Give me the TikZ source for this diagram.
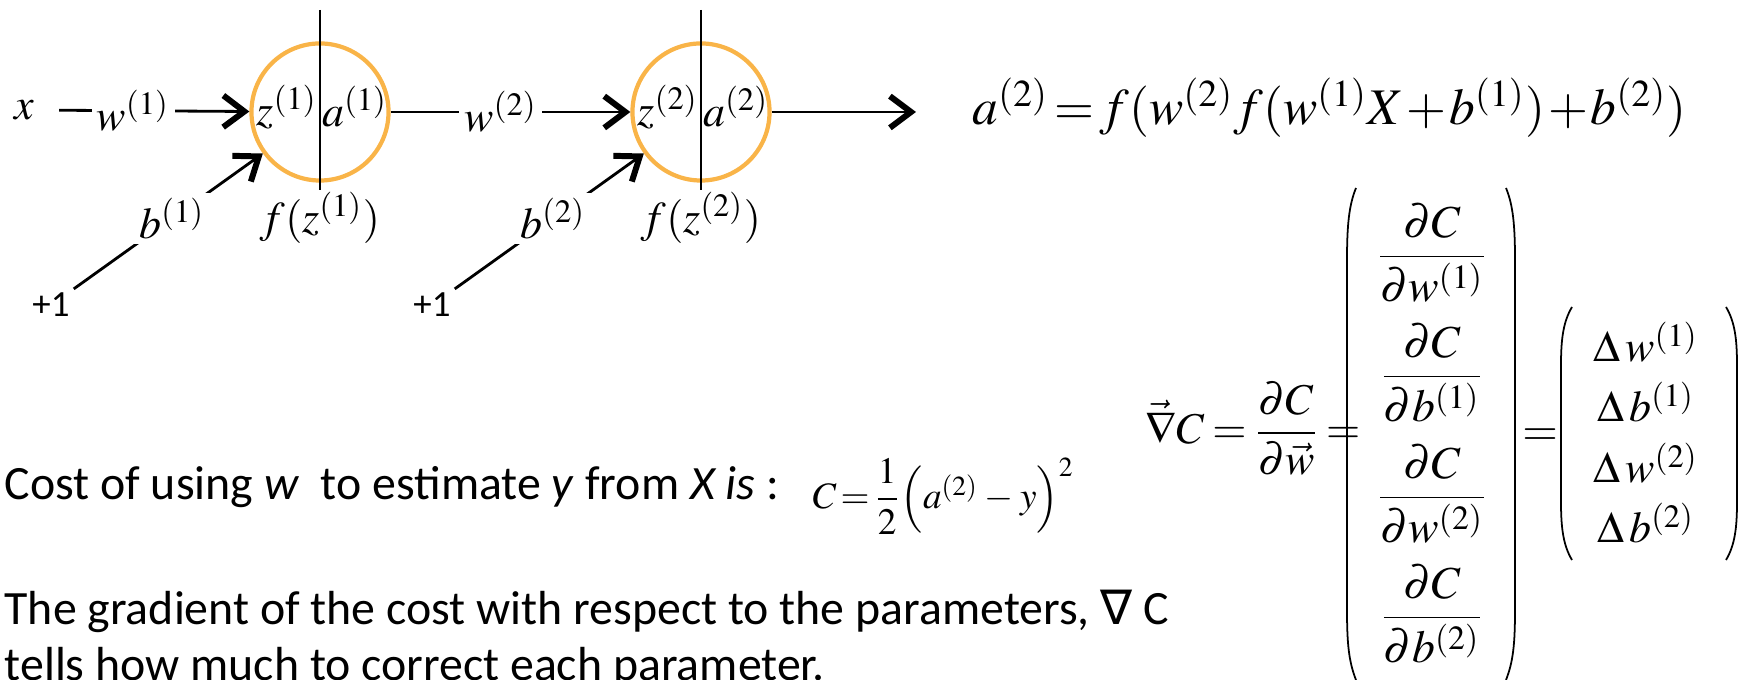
\documentclass[tikz,border=0pt]{standalone}
\usepackage{amsmath}
\usepackage{mathptmx}
\usepackage[no-math]{fontspec}
\setmainfont{Carlito}
\newfontfamily\symfont{DejaVu Sans}
\usetikzlibrary{arrows.meta,calc}
\definecolor{neuronorange}{RGB}{249,180,72}

\begin{document}
\begin{tikzpicture}[x=0.01cm,y=-0.01cm,
    neuron/.style={circle,draw=neuronorange,line width=1.2pt,minimum size=1.37cm,inner sep=0pt},
    conn/.style={line width=0.8pt},
    tip/.style={-{Straight Barb[length=6pt,width=9pt,line width=1.7pt]}},
    wlbl/.style={fill=white,inner sep=1.5pt,font=\fontsize{12.5}{14}\selectfont},
    lbl/.style={inner sep=1pt,font=\fontsize{12.5}{14}\selectfont},
    mth/.style={inner sep=0pt,font=\fontsize{13}{16}\selectfont},
    txt/.style={inner sep=0pt,font=\fontsize{13.6}{16}\selectfont},
    divline/.style={line width=0.7pt},
    paren/.style={line width=0.5pt}]
    \useasboundingbox (0,0) rectangle (1754,680);
    \clip (0,0) rectangle (1754,680);

    % Neurons
    \node[neuron] (n1) at (320,112) {};
    \node[neuron] (n2) at (701,112) {};
    \draw[divline] ($(n1)+(0,-102)$) -- ($(n1)+(0,78)$);
    \draw[divline] ($(n2)+(0,-102)$) -- ($(n2)+(0,78)$);
    \node[lbl] (z1) at ($(n1)+(-33,-5)$) {$z^{(1)}$};
    \node[lbl] (a1) at ($(n1)+(35,-5)$) {$a^{(1)}$};
    \node[lbl] (z2) at ($(n2)+(-33,-5)$) {$z^{(2)}$};
    \node[lbl] (a2) at ($(n2)+(35,-5)$) {$a^{(2)}$};
    \node[lbl] (f1) at ($(n1)+(0,106)$) {$f(z^{(1)})$};
    \node[lbl] (f2) at ($(n2)+(0,106)$) {$f(z^{(2)})$};

    % Weights
    \node[lbl] (x) at (24,110) {$x$};
    \draw[conn,tip,shorten <=6pt] (x) -- node[wlbl,pos=0.45] {$w^{(1)}$} (n1);
    \draw[conn,tip] (n1) -- node[wlbl,pos=0.46] {$w^{(2)}$} (n2);
    \coordinate (out) at (916,112);
    \draw[conn,tip] (n2) -- (out);

    % Biases
    \node[lbl,font=\fontsize{10.5}{13}\selectfont] (p1) at (51,305) {+1};
    \node[lbl,font=\fontsize{10.5}{13}\selectfont] (p2) at (432,305) {+1};
    \draw[conn,tip] (p1.north east) -- node[wlbl,pos=0.52] {$b^{(1)}$} (n1.216);
    \draw[conn,tip] (p2.north east) -- node[wlbl,pos=0.52] {$b^{(2)}$} (n2.216);

    % Output
    \node[anchor=base west,inner sep=0pt,font=\fontsize{14.6}{19}\selectfont] (eq) at (972,125)
        {\thickmuskip=2mu \medmuskip=1mu $a^{(2)} = f(w^{(2)} f(w^{(1)}X + b^{(1)}) + b^{(2)})$};

    % Gradient
    \node[mth,anchor=base west,font=\fontsize{12.5}{16}\selectfont] (grad) at (1145,444)
        {\thickmuskip=3mu $\vec{\nabla} C = \dfrac{\partial C}{\partial \vec{w}} =$};
    \node[mth,anchor=base] (dw1) at (1432,268) {$\dfrac{\partial C}{\partial w^{(1)}}$};
    \node[mth,anchor=base] (db1) at (1432,388) {$\dfrac{\partial C}{\partial b^{(1)}}$};
    \node[mth,anchor=base] (dw2) at (1432,509) {$\dfrac{\partial C}{\partial w^{(2)}}$};
    \node[mth,anchor=base] (db2) at (1432,629) {$\dfrac{\partial C}{\partial b^{(2)}}$};
    \draw[paren] (1356,188) .. controls (1349,205) and (1347,225) .. (1347,260) -- (1347,610) .. controls (1347,645) and (1349,662) .. (1356,680);
    \draw[paren] (1506,188) .. controls (1513,205) and (1515,225) .. (1515,260) -- (1515,610) .. controls (1515,645) and (1513,662) .. (1506,680);
    \node[mth,anchor=base] (eq2) at (1540,446) {$=$};
    \node[mth,anchor=base,font=\fontsize{12.5}{15}\selectfont] (dlw1) at (1646,362) {$\Delta\, w^{(1)}$};
    \node[mth,anchor=base,font=\fontsize{12.5}{15}\selectfont] (dlb1) at (1646,422) {$\Delta\, b^{(1)}$};
    \node[mth,anchor=base,font=\fontsize{12.5}{15}\selectfont] (dlw2) at (1646,483) {$\Delta\, w^{(2)}$};
    \node[mth,anchor=base,font=\fontsize{12.5}{15}\selectfont] (dlb2) at (1646,543) {$\Delta\, b^{(2)}$};
    \draw[paren] (1572,307) .. controls (1563,322) and (1561,340) .. (1561,365) -- (1561,502) .. controls (1561,527) and (1563,545) .. (1572,560);
    \draw[paren] (1726,307) .. controls (1735,322) and (1737,340) .. (1737,365) -- (1737,502) .. controls (1737,527) and (1735,545) .. (1726,560);

    % Text
    \node[txt,anchor=base west] (cost) at (4,500) {Cost of using \textit{w}\ \ to estimate \textit{y} from \textit{X is} :};
    \node[anchor=west,inner sep=0pt,font=\fontsize{10.6}{13}\selectfont] (costeq) at (812,496)
        {\thickmuskip=2mu \medmuskip=3mu $C = \dfrac{1}{2}\!\left(a^{(2)} - y\right)^{2}$};
    \node[txt,anchor=base west] (gradtxt) at (4,625) {The gradient of the cost with respect to the parameters, {\symfont ∇} C};
    \node[txt,anchor=base west] (gradtxtb) at (4,681) {tells how much to correct each parameter.};
\end{tikzpicture}
\end{document}
